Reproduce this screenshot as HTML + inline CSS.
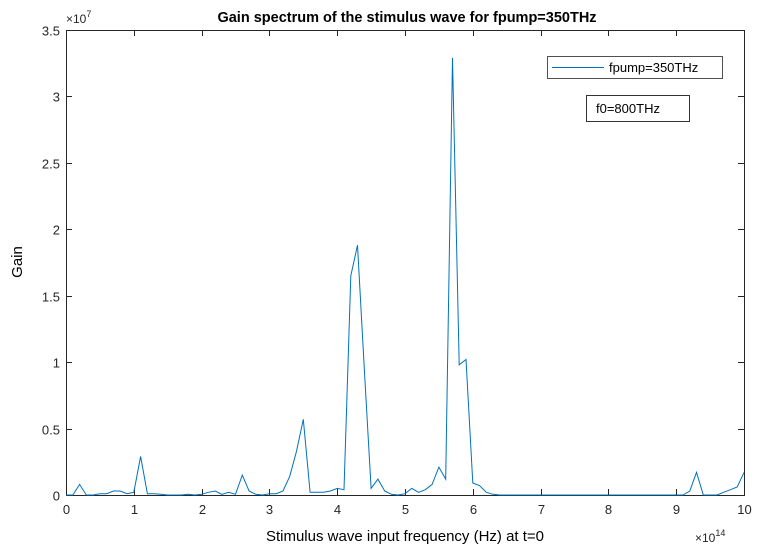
<!DOCTYPE html>
<html><head><meta charset="utf-8"><style>
body{margin:0;background:#fff;}
svg{display:block;font-family:"Liberation Sans",Arial,sans-serif;}
</style></head><body>
<svg id="chart" width="760" height="553">
<text x="407" y="22" text-anchor="middle" font-size="14.5" font-weight="bold">Gain spectrum of the stimulus wave for fpump=350THz</text>
<text x="405" y="541" text-anchor="middle" font-size="15">Stimulus wave input frequency (Hz) at t=0</text>
<text transform="translate(22,262) rotate(-90)" text-anchor="middle" font-size="15">Gain</text>
<text x="66" y="23" font-size="12" fill="#262626">×10<tspan dy="-6" font-size="9">7</tspan></text>
<text x="695" y="542" font-size="12" fill="#262626">×10<tspan dy="-6" font-size="9">14</tspan></text>
<g id="axes"></g>
<polyline id="line" fill="none" stroke="#0072BD" stroke-width="1"/>
<g>
<rect x="547.5" y="56.5" width="175" height="22" fill="#fff" stroke="#262626" stroke-width="0.8"/>
<line x1="552" y1="67.5" x2="604" y2="67.5" stroke="#0072BD"/>
<text x="609" y="72" font-size="13">fpump=350THz</text>
</g>
<g>
<rect x="586.5" y="95.5" width="103" height="26" fill="#fff" stroke="#000" stroke-width="0.8"/>
<text x="596" y="113" font-size="13">f0=800THz</text>
</g>
</svg>
<script>
const xTicks=[0,1,2,3,4,5,6,7,8,9,10];
const yTicks=[0,0.5,1,1.5,2,2.5,3,3.5];
const freq=[0,0.1,0.2,0.3,0.4,0.5,0.6,0.7,0.8,0.9,1,1.1,1.2,1.3,1.4,1.5,1.6,1.7,1.8,1.9,2,2.1,2.2,2.3,2.4,2.5,2.6,2.7,2.8,2.9,3,3.1,3.2,3.3,3.4,3.5,3.6,3.7,3.8,3.9,4,4.1,4.2,4.3,4.4,4.5,4.6,4.7,4.8,4.9,5,5.1,5.2,5.3,5.4,5.5,5.6,5.7,5.8,5.9,6,6.1,6.2,6.3,6.4,6.5,6.6,6.7,6.8,6.9,7,7.1,7.2,7.3,7.4,7.5,7.6,7.7,7.8,7.9,8,8.1,8.2,8.3,8.4,8.5,8.6,8.7,8.8,8.9,9,9.1,9.2,9.3,9.4,9.5,9.6,9.7,9.8,9.9,10];
const gain=[0,0,0.08,0,0,0.01,0.01,0.03,0.03,0.01,0.02,0.29,0.01,0.01,0.005,0,0,0,0.005,0,0.005,0.02,0.03,0.005,0.02,0.005,0.15,0.03,0.005,0,0.01,0.01,0.03,0.14,0.33,0.57,0.02,0.02,0.02,0.03,0.05,0.04,1.65,1.88,0.95,0.05,0.12,0.03,0.005,0,0.01,0.05,0.02,0.04,0.08,0.21,0.12,3.29,0.98,1.02,0.09,0.07,0.02,0.005,0,0,0,0,0,0,0,0,0,0,0,0,0,0,0,0,0,0,0,0,0,0,0,0,0,0,0,0,0.03,0.17,0,0,0,0.02,0.04,0.06,0.17];
const X0=66,X1=744,Y0=495,Y1=30;
const sx=v=>X0+(v-0)/(10-0)*(X1-X0);
const sy=v=>Y0-(v-0)/(3.5-0)*(Y0-Y1);
const NS='http://www.w3.org/2000/svg';
const ax=document.getElementById('axes');
function mk(t,a){const e=document.createElementNS(NS,t);for(const k in a)e.setAttribute(k,a[k]);return e;}
const box=mk('rect',{x:X0+0.5,y:Y1+0.5,width:X1-X0,height:Y0-Y1,fill:'none',stroke:'#262626','stroke-width':1});


ax.appendChild(box);
xTicks.forEach(t=>{
 const x=Math.round(sx(t))+0.5;
 const l=mk('line',{x1:x,x2:x,y1:Y0,y2:Y0-6,stroke:'#262626'});
 
 
 ax.appendChild(l);
 const l2=mk('line',{x1:x,x2:x,y1:Y1,y2:Y1+6,stroke:'#262626'});
 
 
 ax.appendChild(l2);
 const tx=mk('text',{x:x,y:Y0+19,'text-anchor':'middle','font-size':13,fill:'#262626'});
 tx.textContent=t;
 
 
 ax.appendChild(tx);
});
yTicks.forEach(t=>{
 const y=Math.round(sy(t))+0.5;
 const l=mk('line',{x1:X0,x2:X0+6,y1:y,y2:y,stroke:'#262626'});
 
 
 ax.appendChild(l);
 const l2=mk('line',{x1:X1,x2:X1-6,y1:y,y2:y,stroke:'#262626'});
 
 
 ax.appendChild(l2);
 const tx=mk('text',{x:X0-6,y:y+5,'text-anchor':'end','font-size':13,fill:'#262626'});
 tx.textContent=t;
 
 
 ax.appendChild(tx);
});
const n=Math.min(freq.length,gain.length);
let pts=[];
for(let i=0;i<n;i++)pts.push(sx(freq[i]).toFixed(1)+','+sy(gain[i]).toFixed(1));
document.getElementById('line').setAttribute('points',pts.join(' '));
</script>
</body></html>
